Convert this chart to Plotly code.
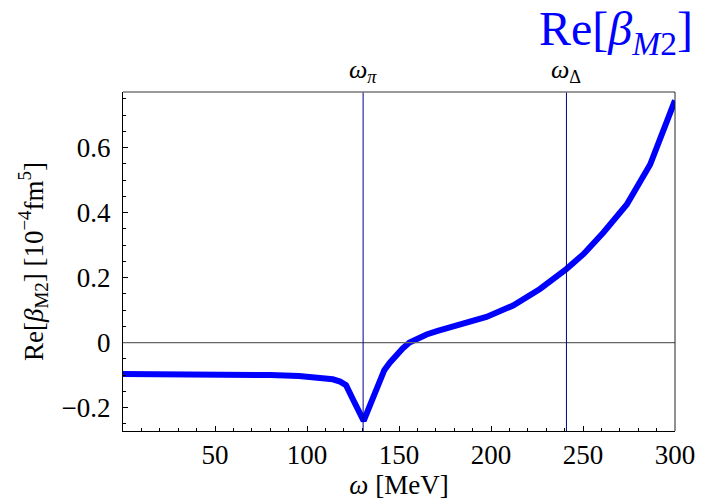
import plotly.graph_objects as go

# Data
omega = [0, 20, 40, 60, 80, 95.7, 105, 114, 118, 121.2, 125, 128.3, 130.8,
         133, 135, 137.5, 140, 142, 145, 148.4, 152, 155.7, 160, 165, 171, 177.5,
         190, 197.5, 212, 226.6, 241.1, 250.2, 261.1, 273.8, 286.5, 300]
re_beta = [-0.097, -0.097, -0.098, -0.099, -0.100, -0.103, -0.107, -0.113, -0.12,
           -0.131, -0.175, -0.213, -0.241, -0.21, -0.18, -0.14, -0.108, -0.085,
           -0.062, -0.039, -0.018, 0.0, 0.013, 0.025, 0.036, 0.046, 0.066,
           0.079, 0.114, 0.165, 0.227, 0.272, 0.339, 0.425, 0.548, 0.745]

omega_pi = 130.5
omega_delta = 241.0
xticks = [50, 100, 150, 200, 250, 300]
yticks = [-0.2, 0, 0.2, 0.4, 0.6]
ytick_text = ["\u22120.2", "0", "0.2", "0.4", "0.6"]

FONT = "Liberation Serif"

fig = go.Figure()
fig.add_trace(go.Scatter(x=omega, y=re_beta, mode="lines",
                         line=dict(color="#0000FF", width=6, shape="linear"),
                         hoverinfo="skip", showlegend=False))

# zero line
fig.add_shape(type="line", xref="paper", yref="y", x0=0, x1=1, y0=0, y1=0,
              line=dict(color="#666666", width=1.2))
# vertical threshold lines
for xv in (omega_pi, omega_delta):
    fig.add_shape(type="line", xref="x", yref="paper", x0=xv, x1=xv, y0=0, y1=1,
                  line=dict(color="#00008B", width=1))
# top frame line (gray) and right frame line
fig.add_shape(type="line", xref="paper", yref="paper", x0=0, x1=1, y0=1, y1=1,
              line=dict(color="#777777", width=1.5))
fig.add_shape(type="line", xref="paper", yref="paper", x0=1, x1=1, y0=0, y1=1,
              line=dict(color="#222222", width=1))

fig.add_annotation(x=omega_pi, y=1, xref="x", yref="paper", yanchor="bottom", yshift=3,
                   text="<i>ω</i><sub><i>π</i></sub>", showarrow=False,
                   font=dict(family=FONT, size=26, color="black"))
fig.add_annotation(x=omega_delta, y=1, xref="x", yref="paper", yanchor="bottom", yshift=3,
                   text="<i>ω</i><sub>Δ</sub>", showarrow=False,
                   font=dict(family=FONT, size=26, color="black"))
fig.add_annotation(xref="paper", yref="paper", x=1.0, y=1.0,
                   xanchor="right", yanchor="middle", xshift=20, yshift=60,
                   showarrow=False,
                   text="Re[<i>β</i><sub><i>M</i>2</sub>]",
                   font=dict(family=FONT, size=48, color="#0000FF"))

fig.update_layout(
    width=717, height=503, autosize=False,
    margin=dict(l=123, r=42, t=92, b=70),
    paper_bgcolor="white", plot_bgcolor="white",
    font=dict(family=FONT, size=27, color="black"),
    xaxis=dict(range=[0, 300], tickvals=xticks, ticks="inside", ticklen=5,
               tickcolor="black", showgrid=False, zeroline=False, showline=True,
               linecolor="black", linewidth=1, mirror=False,
               minor=dict(dtick=10, ticks="inside", ticklen=3, tickcolor="black", showgrid=False),
               title=dict(text="<i>ω</i> [MeV]", font=dict(size=27), standoff=2),
               tickfont=dict(size=27)),
    yaxis=dict(range=[-0.272, 0.771], tickvals=yticks, ticktext=ytick_text,
               ticks="inside", ticklen=5, tickcolor="black",
               showgrid=False, zeroline=False, showline=True, linecolor="black",
               linewidth=1, mirror=False,
               minor=dict(dtick=0.05, tick0=0, ticks="inside", ticklen=3, tickcolor="black",
                          showgrid=False),
               title=dict(text="Re[<i>β</i><sub>M2</sub>] [10<sup>−4</sup>fm<sup>5</sup>]",
                          font=dict(size=27), standoff=10),
               tickfont=dict(size=27), ticklabelstandoff=6),
)

fig.write_html("out.html")
